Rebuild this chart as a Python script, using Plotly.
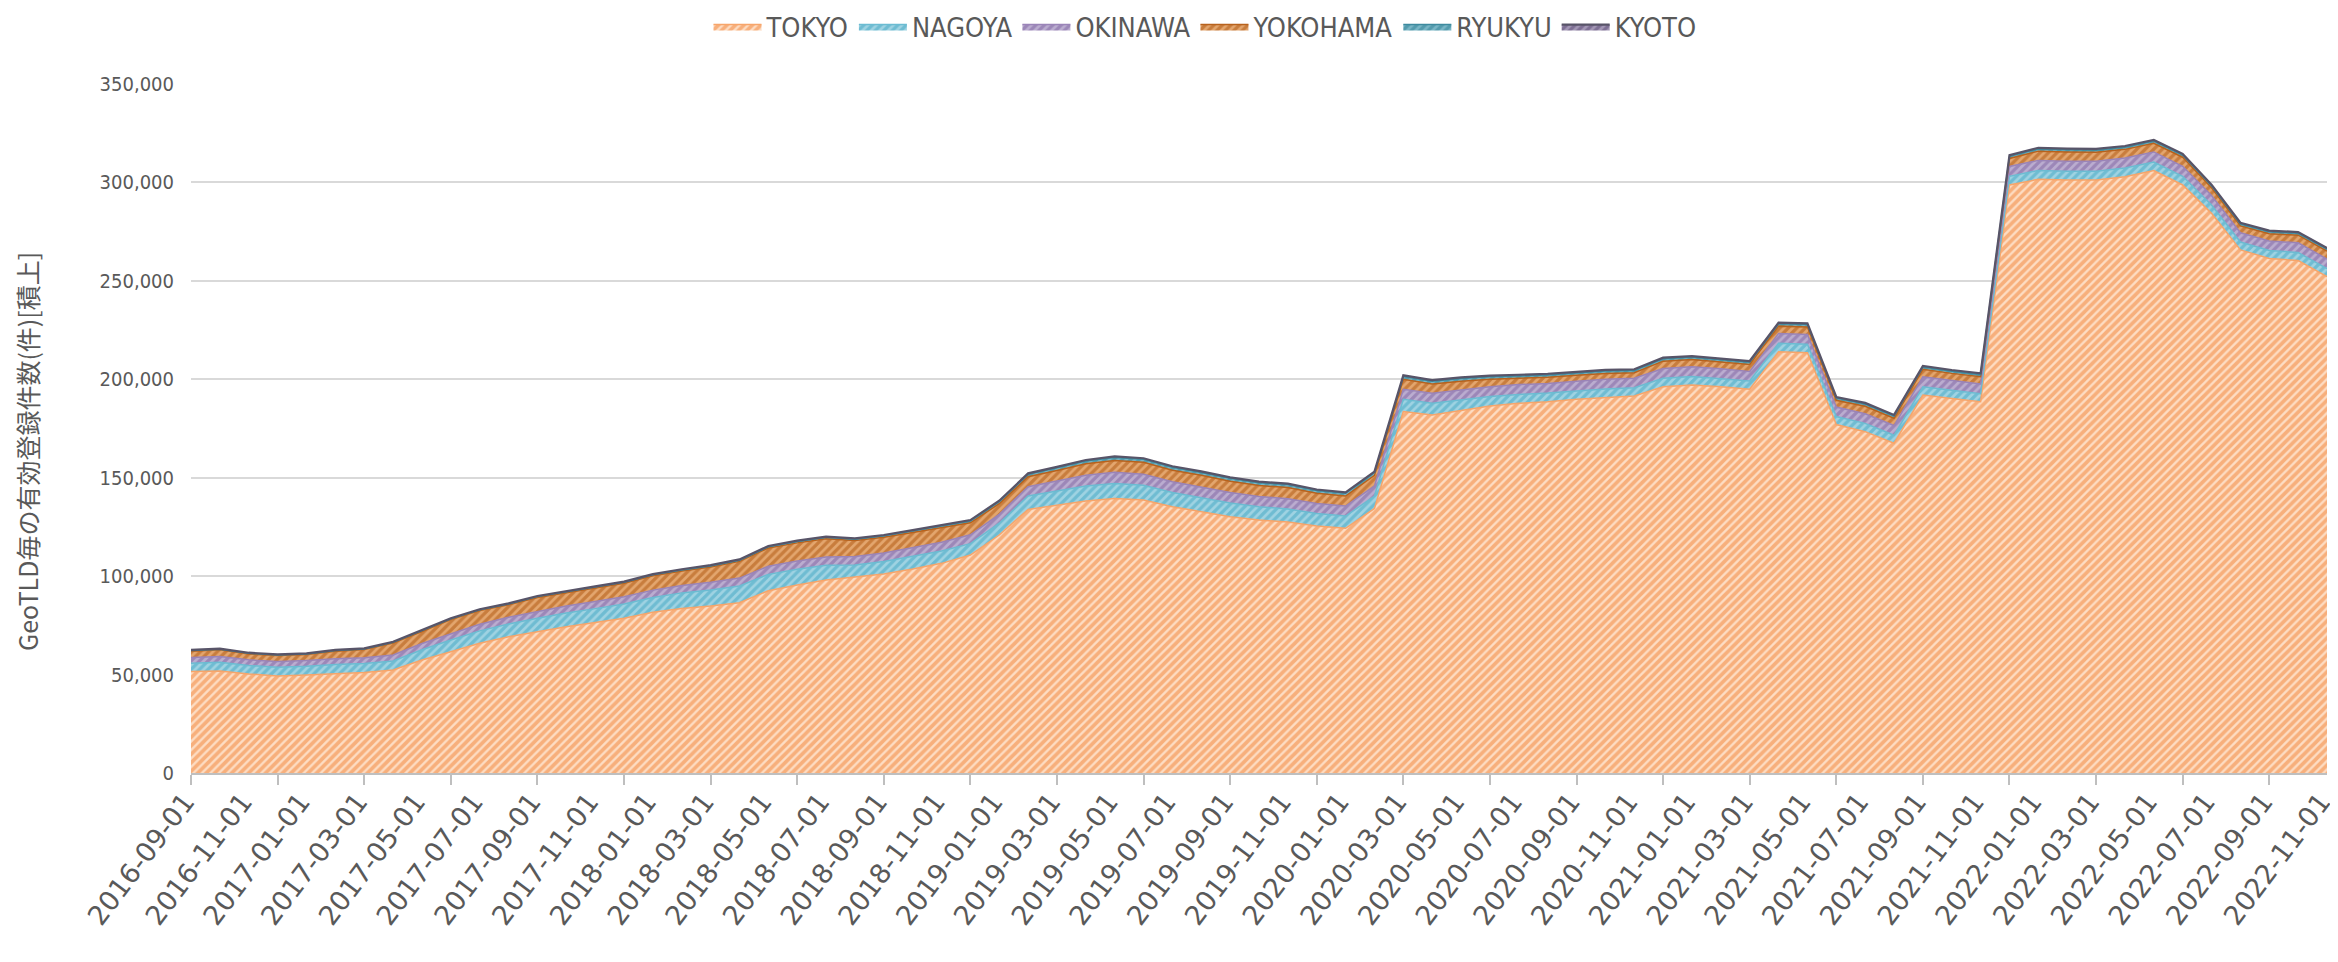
import plotly.graph_objects as go
import pandas as pd

# ---- data (monthly, 2016-09 .. 2022-11) ----
months = [d.strftime("%Y-%m-%d") for d in pd.date_range("2016-09-01", "2022-11-01", freq="MS")]

tokyo = [51500, 51800, 50300, 49300, 49800, 50600, 51100, 52300, 57400, 61600,
         65900, 69200, 71800, 74300, 76400, 78600, 81600, 83500, 84800, 86500,
         92600, 95500, 98000, 99400, 101100, 103600, 106500, 110700, 120900, 133900,
         136100, 138200, 139500, 138700, 135300, 132800, 130200, 128500, 127500, 125500,
         124300, 134400, 183600, 181900, 184100, 186400, 187800, 188600, 189800, 190800,
         191500, 196200, 197100, 196200, 194900, 214000, 213500, 177000, 173400, 167500,
         192000, 190300, 188600, 298700, 301600, 301200, 301200, 302900, 306000, 298700,
         284300, 265700, 261400, 260300, 252100]
nagoya = [4300, 4500, 4300, 4400, 4400, 4500, 4500, 4600, 5200, 6000,
          6300, 6500, 6800, 7000, 7100, 7300, 7600, 8000, 8200, 8500,
          8300, 8000, 7500, 6300, 6300, 6400, 6300, 5800, 6000, 6800,
          7200, 7600, 7600, 7500, 7200, 7100, 7000, 6800, 6600, 6300,
          6200, 6300, 6200, 5900, 5500, 4800, 4500, 4400, 4300, 4300,
          4200, 4300, 4300, 4200, 4200, 4300, 4300, 4100, 4200, 4100,
          4200, 4100, 4100, 4400, 4500, 4500, 4500, 4400, 4400, 4400,
          4200, 4000, 4000, 4100, 4100]
okinawa = [2900, 2900, 2900, 2900, 3000, 3000, 3000, 3100, 3200, 3300,
           3400, 3400, 3500, 3500, 3600, 3600, 3700, 3800, 3900, 4000,
           4100, 4200, 4200, 4300, 4300, 4400, 4400, 4500, 4500, 4700,
           5000, 5500, 5700, 5600, 5500, 5400, 5300, 5200, 5200, 5100,
           5100, 5100, 5100, 5100, 5100, 5000, 5000, 4900, 4900, 4900,
           4800, 5000, 5000, 5000, 4900, 5000, 5000, 4800, 4900, 4900,
           5000, 4900, 4900, 5000, 5100, 5100, 5100, 5100, 5100, 5100,
           4900, 4700, 4800, 4900, 4900]
yokohama = [3200, 3400, 3000, 3100, 3000, 3800, 4100, 6000, 6100, 7000,
            6900, 6400, 7000, 6900, 6900, 6900, 7300, 7300, 7700, 8500,
            9300, 9200, 9300, 8100, 8000, 7800, 7400, 6100, 5400, 5100,
            5400, 5800, 6000, 6100, 5800, 5900, 5700, 5500, 5700, 5200,
            5100, 5400, 5100, 4700, 4300, 3800, 3200, 3100, 3000, 3000,
            2800, 3700, 3600, 3500, 3500, 3700, 3800, 3400, 3800, 3700,
            3900, 3700, 3700, 4100, 4700, 4700, 4500, 4400, 4400, 4600,
            3900, 3500, 3700, 3900, 4000]
ryukyu = [300, 300, 300, 300, 300, 300, 300, 400, 400, 400,
          400, 400, 500, 500, 500, 500, 500, 500, 600, 600,
          600, 700, 700, 700, 800, 800, 800, 900, 1000, 1200,
          1300, 1400, 1500, 1500, 1500, 1500, 1500, 1500, 1500, 1400,
          1400, 1400, 1400, 1400, 1400, 1300, 1200, 1200, 1200, 1200,
          1200, 1200, 1200, 1200, 1200, 1200, 1200, 1100, 1100, 1100,
          1100, 1100, 1100, 1100, 1100, 1100, 1100, 1100, 1100, 1100,
          1000, 1000, 1000, 1000, 1000]
kyoto = [300, 300, 300, 300, 300, 300, 300, 300, 300, 300,
         300, 300, 300, 300, 300, 300, 300, 400, 400, 400,
         400, 400, 400, 400, 400, 400, 400, 500, 500, 500,
         500, 500, 500, 500, 500, 500, 500, 500, 500, 500,
         500, 500, 600, 600, 600, 600, 600, 600, 600, 600,
         600, 600, 600, 600, 600, 600, 600, 600, 600, 600,
         600, 600, 600, 600, 600, 600, 600, 600, 600, 600,
         600, 600, 600, 600, 600]

series_names = ["TOKYO", "NAGOYA", "OKINAWA", "YOKOHAMA", "RYUKYU", "KYOTO"]
series_vals = [tokyo, nagoya, okinawa, yokohama, ryukyu, kyoto]
fg_colors = ["#F28233", "#3FA6C2", "#7D62A0", "#AE540C", "#2E7F94", "#5A4874"]
bg_colors = ["#FDDDC4", "#9FD3E2", "#BBADD0", "#E3A66E", "#79B6C6", "#A397B5"]
line_colors = ["#F7A56A", "#6BBCD2", "#9A84B8", "#B8621C", "#3D8A9E", "#585468"]
solidities = [0.62, 0.55, 0.55, 0.55, 0.55, 0.55]

x_idx = list(range(len(months)))

fig = go.Figure()
for name, vals, fg, bg, lc, sol in zip(series_names, series_vals, fg_colors, bg_colors,
                                       line_colors, solidities):
    fig.add_trace(go.Scatter(
        x=x_idx, y=vals, name=name, mode="lines", stackgroup="one",
        line=dict(color=lc, width=1.5 if name != "KYOTO" else 2.2),
        fillcolor=bg,
        fillpattern=dict(shape="/", fgcolor=fg, bgcolor=bg, size=6, solidity=sol),
    ))

# page body has an 8px margin, so the figure is slightly smaller than the window
W, H = 2330, 954
ML, MR, MT, MB = 183, 11, 76, 189
pw, ph = W - ML - MR, H - MT - MB

fig.update_layout(
    width=W, height=H,
    margin=dict(l=ML, r=MR, t=MT, b=MB, autoexpand=False),
    plot_bgcolor="white", paper_bgcolor="white",
    showlegend=True,
    legend=dict(orientation="h", x=(1205 - 8 - ML) / pw, xanchor="center",
                yref="container", y=1 - 19 / H, yanchor="middle",
                traceorder="normal",
                font=dict(family="DejaVu Sans Condensed, Roboto", size=27, color="#595959"),
                itemwidth=48),
    xaxis=dict(
        range=[0, len(months) - 1],
        tickmode="array", tickvals=x_idx[::2], ticktext=months[::2],
        tickangle=-53, ticks="", automargin=False, ticklabeloverflow="allow",
        ticklabelshift=-6,
        tickfont=dict(family="DejaVu Sans", size=27, color="#595959"),
        showline=True, linecolor="#BFBFBF", linewidth=2,
        showgrid=False, zeroline=False,
        minor=dict(tickmode="linear", tick0=0, dtick=3, ticks="outside",
                   ticklen=10, tickcolor="#BFBFBF", tickwidth=2, showgrid=False),
    ),
    yaxis=dict(
        range=[0, 350000], dtick=50000, tickformat=",d", automargin=False,
        tickfont=dict(family="DejaVu Sans Condensed, Roboto", size=20, color="#595959"),
        showgrid=True, gridcolor="#D9D9D9", gridwidth=2,
        showline=False, zeroline=False, ticks="", ticklabelstandoff=16,
    ),
    annotations=[dict(
        text="GeoTLD毎の有効登録件数(件)[積上]",
        textangle=-90, showarrow=False,
        xref="paper", yref="paper",
        x=(19 - ML) / pw, y=(H - MB - 444) / ph,
        xanchor="center", yanchor="middle",
        font=dict(family="Noto Sans CJK JP", size=25, color="#595959"),
    )],
)

fig.write_html("out.html")
